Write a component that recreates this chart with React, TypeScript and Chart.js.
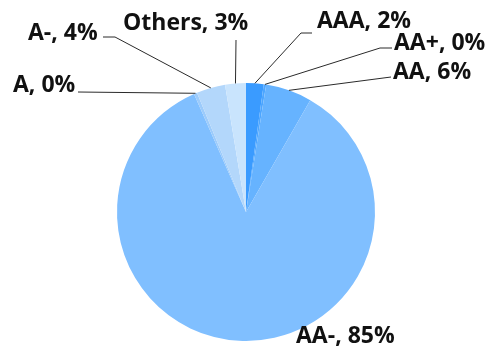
import React, { useEffect, useRef } from "react";
import { Chart, registerables } from "chart.js";

Chart.register(...registerables);

const categories = ["AAA", "AA+", "AA", "AA-", "A", "A-", "Others"];
const shares = [2.2, 0.3, 5.8, 85.1, 0.4, 3.6, 2.6];
const sliceColors = ["#3A9BFF", "#4DA6FF", "#66B3FF", "#80BFFF", "#9CCBFB", "#B3D7FB", "#C9E4FD"];

// label placement: text anchor (left x, baseline y) and leader-line path points
const labelLayout = [
  { tx: 317, ty: 28, path: [[301, 33], [312, 33]] },
  { tx: 394, ty: 50, path: [[380, 48], [392, 48]] },
  { tx: 393, ty: 79, path: [[391, 77]] },
  { tx: 296, ty: 343, path: null },
  { tx: 13, ty: 92, path: [[78, 92]] },
  { tx: 28, ty: 40, path: [[115, 37], [103, 37]] },
  { tx: 123, ty: 30, path: [[236, 40]] },
];

const labelPlugin = {
  id: "pieLabels",
  afterDatasetsDraw(chart: any) {
    const ctx = chart.ctx;
    const meta = chart.getDatasetMeta(0);
    const data = chart.data.datasets[0].data as number[];
    const total = data.reduce((a, b) => a + b, 0);
    ctx.save();
    meta.data.forEach((arc: any, i: number) => {
      const p = arc.getProps(["x", "y", "startAngle", "endAngle", "outerRadius"], true);
      const mid = (p.startAngle + p.endAngle) / 2;
      const sx = p.x + Math.cos(mid) * p.outerRadius;
      const sy = p.y + Math.sin(mid) * p.outerRadius;
      const lay = labelLayout[i];
      if (lay.path) {
        ctx.strokeStyle = "#2a2a2a";
        ctx.lineWidth = 1;
        ctx.beginPath();
        ctx.moveTo(sx, sy);
        lay.path.forEach(([x, y]) => ctx.lineTo(x, y));
        ctx.stroke();
      }
      const pct = Math.round((data[i] / total) * 100);
      ctx.fillStyle = "#111111";
      ctx.font = 'bold 23px "Open Sans"';
      ctx.textAlign = "left";
      ctx.textBaseline = "alphabetic";
      ctx.fillText(`${categories[i]}, ${pct}%`, lay.tx, lay.ty);
    });
    ctx.restore();
  },
};

export default function App() {
  const ref = useRef<HTMLCanvasElement>(null);
  useEffect(() => {
    document.body.style.margin = "0";
    const chart = new Chart(ref.current!, {
      type: "pie",
      data: {
        labels: categories,
        datasets: [
          {
            data: shares,
            backgroundColor: sliceColors,
            borderWidth: 0,
          },
        ],
      },
      options: {
        responsive: false,
        animation: false,
        layout: { padding: { left: 117, right: 112, top: 83, bottom: 6 } },
        plugins: {
          legend: { display: false },
          tooltip: { enabled: false },
        },
      },
      plugins: [labelPlugin],
    });
    return () => chart.destroy();
  }, []);
  return (
    <div style={{ width: 487, height: 347, background: "#fff" }}>
      <canvas ref={ref} width={487} height={347} />
    </div>
  );
}
